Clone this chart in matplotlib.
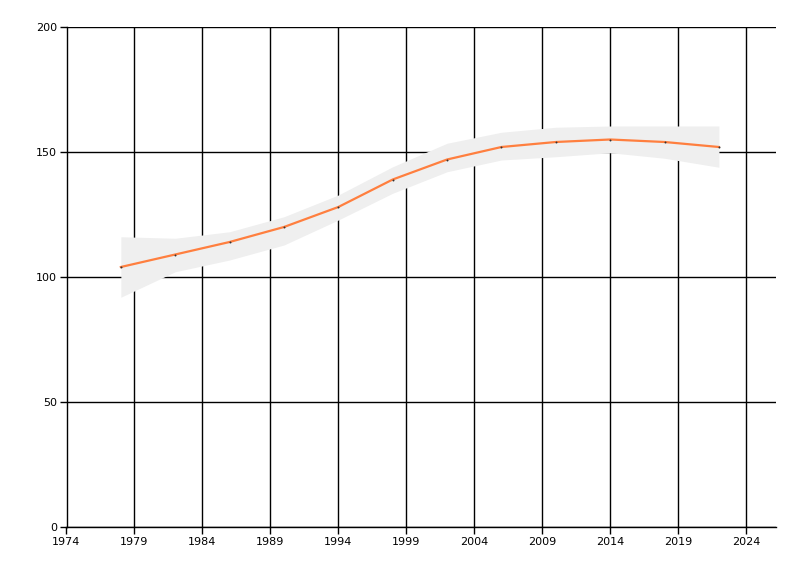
import matplotlib
matplotlib.use("Agg")
import matplotlib.pyplot as plt

years = [1978, 1982, 1986, 1990, 1994, 1998, 2002, 2006, 2010, 2014, 2018, 2022]
values = [104, 109, 114, 120, 128, 139, 147, 152, 154, 155, 154, 152]
upper = [116.1, 115.5, 118.1, 124.1, 132.8, 144.1, 153.5, 157.9, 159.9, 160.4, 160.4, 160.4]
lower = [91.9, 102.1, 106.8, 112.8, 122.8, 133.5, 142.1, 146.8, 148.1, 149.7, 147.5, 143.9]
xticks = [1974, 1979, 1984, 1989, 1994, 1999, 2004, 2009, 2014, 2019, 2024]
yticks = [0, 50, 100, 150, 200]

fig = plt.figure(figsize=(8, 5.76), dpi=100)
ax = fig.add_axes([66.5 / 800, 1 - 527 / 576, (776 - 66.5) / 800, 500 / 576])

ax.fill_between(years, lower, upper, color="#efefef", linewidth=0, zorder=1)
ax.plot(years, values, color="#ff7f3f", linewidth=1.6, zorder=3)
ax.scatter(years, values, s=2, color="#333333", linewidths=0, zorder=4)

ax.set_xlim(1974, 2026.2)
ax.set_ylim(0, 200)
ax.set_xticks(xticks)
ax.set_yticks(yticks)
ax.grid(True, color="black", linewidth=1, zorder=0)
ax.set_axisbelow(True)
for s in ["top", "right"]:
    ax.spines[s].set_visible(False)
for s in ["left", "bottom"]:
    ax.spines[s].set_linewidth(1)
ax.tick_params(axis="both", length=5, width=1, labelsize=8, colors="black", pad=2)

fig.savefig("out.png", dpi=100)
